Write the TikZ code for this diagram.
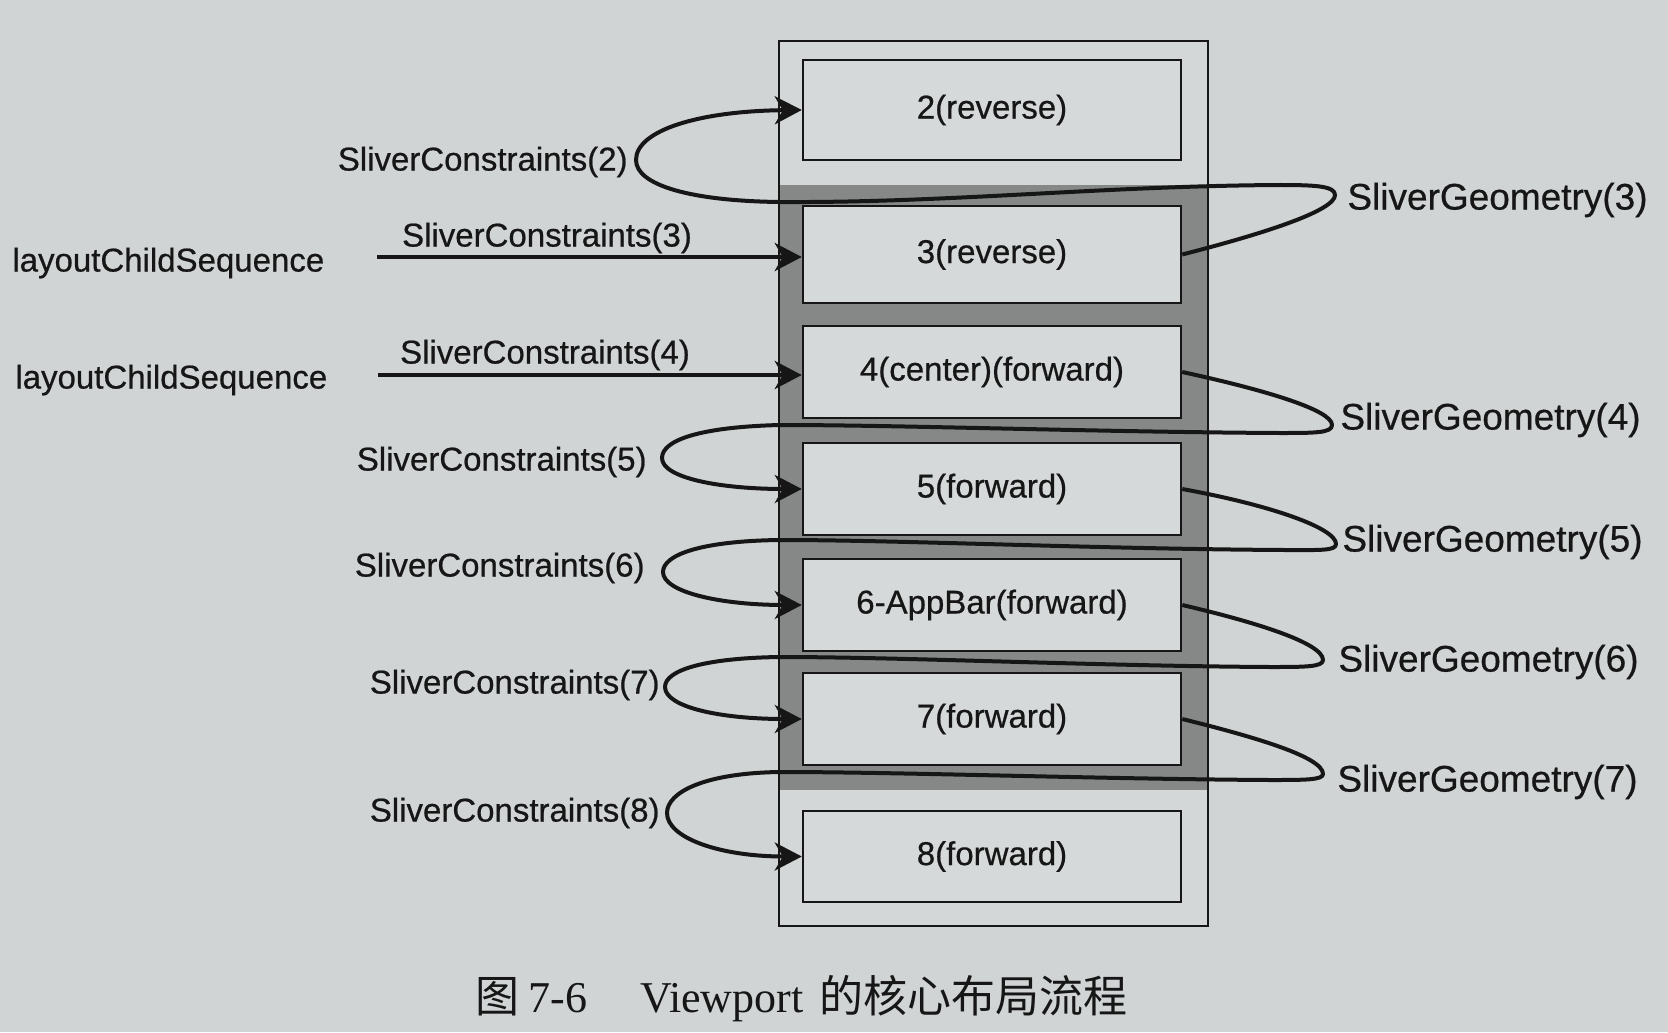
\documentclass[tikz,border=0pt]{standalone}
\usepackage{fontspec}
\newfontfamily\labfont[FakeBold=0.6]{Liberation Sans}
\newfontfamily\capserif{Liberation Serif}
\newfontfamily\cjk{Noto Sans CJK SC}
\usetikzlibrary{arrows.meta}
\definecolor{paper}{RGB}{208,212,212}
\definecolor{boxfill}{RGB}{214,217,217}
\definecolor{hatch}{RGB}{134,136,136}
\definecolor{ink}{RGB}{22,22,22}
\begin{document}
\begin{tikzpicture}[x=0.5pt,y=-0.5pt,
  slot/.style={draw=ink, line width=1.25pt, fill=boxfill, minimum width=189pt, inner sep=0pt,
    font=\labfont\fontsize{16.5}{18}\selectfont, text=ink},
  lbl/.style={font=\labfont\fontsize{16.5}{18}\selectfont, text=ink, inner sep=0pt},
  glbl/.style={font=\labfont\fontsize{18.5}{20}\selectfont, text=ink, inner sep=0pt, anchor=west},
  flow/.style={draw=ink, line width=2pt, line join=round, -{Stealth[length=13.5pt,width=14pt,inset=4pt]}},
  feed/.style={draw=ink, line width=2.3pt, -{Stealth[length=13.5pt,width=14pt,inset=4pt]}},
]
\useasboundingbox (0,0) rectangle (1668,1032);
\fill[paper] (0,0) rectangle (1668,1032);
% viewport frame
\fill[paper!92!white] (779,41) rectangle (1208,926);
\fill[hatch] (779,185) rectangle (1208,790);
\draw[ink, line width=0.8pt] (779,41) rectangle (1208,926);

% slivers
\node[slot, minimum height=50pt]   (b2) at (992,110)   {2(reverse)};
\node[slot, minimum height=48.5pt] (b3) at (992,254.5) {3(reverse)};
\node[slot, minimum height=46pt]   (b4) at (992,372)   {4(center)(forward)};
\node[slot, minimum height=46pt]   (b5) at (992,489)   {5(forward)};
\node[slot, minimum height=46pt]   (b6) at (992,605)   {6-AppBar(forward)};
\node[slot, minimum height=46pt]   (b7) at (992,719)   {7(forward)};
\node[slot, minimum height=45.5pt] (b8) at (992,856.5) {8(forward)};

% left labels
\node[lbl, anchor=west] (lcs3) at (12,263) {layoutChildSequence};
\node[lbl, anchor=west] (lcs4) at (15,380) {layoutChildSequence};
\node[lbl] (sc3) at (547,238) {SliverConstraints(3)};
\node[lbl] (sc4) at (545,355) {SliverConstraints(4)};
\node[lbl, anchor=east] (sc2) at (628,162) {SliverConstraints(2)};
\node[lbl, anchor=east] (sc5) at (647,462) {SliverConstraints(5)};
\node[lbl, anchor=east] (sc6) at (645,568) {SliverConstraints(6)};
\node[lbl, anchor=east] (sc7) at (660,685) {SliverConstraints(7)};
\node[lbl, anchor=east] (sc8) at (660,813) {SliverConstraints(8)};

% right labels
\node[glbl] (sg3) at (1347,200) {SliverGeometry(3)};
\node[glbl] (sg4) at (1340,420) {SliverGeometry(4)};
\node[glbl] (sg5) at (1342,542) {SliverGeometry(5)};
\node[glbl] (sg6) at (1338,662) {SliverGeometry(6)};
\node[glbl] (sg7) at (1337,782) {SliverGeometry(7)};

% straight feeds
\coordinate (s3) at (377,257);
\coordinate (s4) at (378,375);
\draw[feed] (s3) -- (s3 -| b3.west);
\draw[feed] (s4) -- (s4 -| b4.west);

% tips of the geometry loops
\coordinate (t3) at (1335,195);
\coordinate (t4) at (1332,425);
\coordinate (t5) at (1336,544);
\coordinate (t6) at (1323,660);
\coordinate (t7) at (1323,774);

% geometry -> constraints loops
\draw[flow] (b3.east) .. controls (1270,232) and (1335,210) .. (t3)
  .. controls (1335,186) and (1315,185) .. (1280,185)
  .. controls (1100,186) and (950,203) .. (780,202)
  .. controls (690,201) and (636,185) .. (636,160)
  .. controls (636,130) and (700,111) .. (b2.west);

\draw[flow] (b4.east) .. controls (1265,390) and (1332,410) .. (t4)
  .. controls (1332,433) and (1315,433) .. (1280,433)
  .. controls (1100,432) and (900,425) .. (780,425)
  .. controls (700,427) and (662,440) .. (662,458)
  .. controls (662,478) and (720,489) .. (b5.west);

\draw[flow] (b5.east) .. controls (1270,505) and (1336,528) .. (t5)
  .. controls (1336,551) and (1320,550) .. (1285,550)
  .. controls (1100,549) and (900,540) .. (780,540)
  .. controls (700,541) and (663,555) .. (663,572)
  .. controls (663,592) and (720,605) .. (b6.west);

\draw[flow] (b6.east) .. controls (1255,622) and (1323,643) .. (t6)
  .. controls (1323,667) and (1305,667) .. (1270,667)
  .. controls (1100,666) and (900,657) .. (780,657)
  .. controls (705,658) and (665,670) .. (665,687)
  .. controls (665,707) and (720,719) .. (b7.west);

\draw[flow] (b7.east) .. controls (1255,737) and (1323,757) .. (t7)
  .. controls (1323,780) and (1305,780) .. (1270,780)
  .. controls (1100,779) and (900,772) .. (780,772)
  .. controls (705,773) and (667,792) .. (667,813)
  .. controls (667,838) and (720,856.5) .. (b8.west);

% caption
\node[anchor=base west, inner sep=0pt, text=ink] (cap) at (475,1012)
  {\fontsize{22}{24}\selectfont\cjk 图\hspace{4.5pt}\capserif 7-6\hspace{26.5pt}Viewport\hspace{8pt}\cjk 的核心布局流程};
\end{tikzpicture}
\end{document}
